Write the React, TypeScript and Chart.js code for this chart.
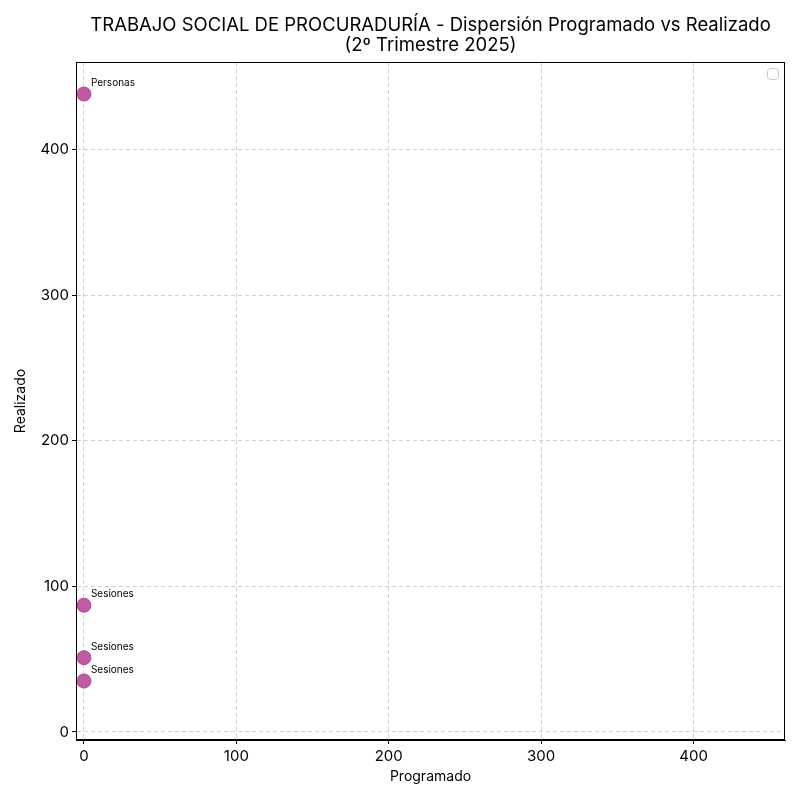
import React, { useEffect, useRef } from "react";
import { Chart, registerables } from "chart.js";

Chart.register(...registerables);

const titleLines = ["TRABAJO SOCIAL DE PROCURADURÍA - Dispersión Programado vs Realizado", "(2º Trimestre 2025)"];
const pointLabels = ["Personas", "Sesiones", "Sesiones", "Sesiones"];
const programado = [0, 0, 0, 0];
const realizado = [438, 87, 51, 35];
const xTitle = "Programado";
const yTitle = "Realizado";

const FONT = "Inter, 'Open Sans', sans-serif";

const overlay = {
  id: "overlay",
  afterDatasetsDraw(chart: any) {
    const ctx = chart.ctx;
    const xs = chart.scales.x;
    const ys = chart.scales.y;
    const ca = chart.chartArea;
    ctx.save();
    // point labels
    ctx.fillStyle = "#000";
    ctx.font = `10px ${FONT}`;
    ctx.textAlign = "left";
    ctx.textBaseline = "alphabetic";
    programado.forEach((xv, i) => {
      const px = xs.getPixelForValue(xv);
      const py = ys.getPixelForValue(realizado[i]);
      ctx.fillText(pointLabels[i], px + 7, py - 8);
    });
    // frame
    ctx.strokeStyle = "#000";
    ctx.lineWidth = 1;
    ctx.strokeRect(ca.left + 0.5, ca.top + 0.5, ca.right - ca.left - 1, ca.bottom - ca.top - 1);
    // empty legend
    ctx.strokeStyle = "#cccccc";
    ctx.fillStyle = "rgba(255,255,255,0.8)";
    ctx.beginPath();
    (ctx as any).roundRect(ca.right - 17.5, ca.top + 6.5, 11, 11, 3);
    ctx.fill();
    ctx.stroke();
    // titles
    ctx.fillStyle = "#000";
    ctx.textAlign = "center";
    ctx.textBaseline = "middle";
    ctx.font = `18.5px ${FONT}`;
    const cx = (ca.left + ca.right) / 2;
    ctx.fillText(titleLines[0], cx, 25);
    ctx.fillText(titleLines[1], cx, 45);
    ctx.font = `14px ${FONT}`;
    ctx.fillText(xTitle, cx, 777);
    ctx.translate(21, (ca.top + ca.bottom) / 2);
    ctx.rotate(-Math.PI / 2);
    ctx.fillText(yTitle, 0, 0);
    ctx.restore();
  },
};

export default function App() {
  const ref = useRef<HTMLCanvasElement | null>(null);
  useEffect(() => {
    document.body.style.margin = "0";
    const chart = new Chart(ref.current!, {
      type: "scatter",
      data: {
        datasets: [
          {
            data: programado.map((x, i) => ({ x, y: realizado[i] })),
            backgroundColor: "#c358a4",
            borderColor: "#b04592",
            borderWidth: 1,
            pointRadius: 7,
            pointHoverRadius: 7,
          },
        ],
      },
      options: {
        animation: false,
        responsive: false,
        devicePixelRatio: 1,
        layout: { padding: { left: 0, top: 62, right: 15, bottom: 0 } },
        plugins: { legend: { display: false }, title: { display: false }, tooltip: { enabled: false } },
        scales: {
          x: {
            type: "linear",
            min: -5.2,
            max: 460,
            afterFit: (s: any) => { s.height = 60; },
            ticks: { stepSize: 100, includeBounds: false, color: "#000", font: { size: 15, family: FONT }, padding: 3, maxRotation: 0 },
            grid: { color: "#d0d0d0", tickColor: "#000", tickLength: 4, tickBorderDash: [], lineWidth: 1 },
            border: { display: true, color: "#000", dash: [4, 3] } as any,
          },
          y: {
            type: "linear",
            min: -5.5,
            max: 460,
            afterFit: (s: any) => { s.width = 76; },
            ticks: { stepSize: 100, includeBounds: false, color: "#000", font: { size: 15, family: FONT }, padding: 3 },
            grid: { color: "#d0d0d0", tickColor: "#000", tickLength: 4, tickBorderDash: [], lineWidth: 1 },
            border: { display: true, color: "#000", dash: [4, 3] } as any,
          },
        },
      },
      plugins: [overlay],
    });
    return () => chart.destroy();
  }, []);
  return (
    <div style={{ width: 800, height: 800, background: "#fff" }}>
      <canvas ref={ref} width={800} height={800} style={{ display: "block" }} />
    </div>
  );
}
